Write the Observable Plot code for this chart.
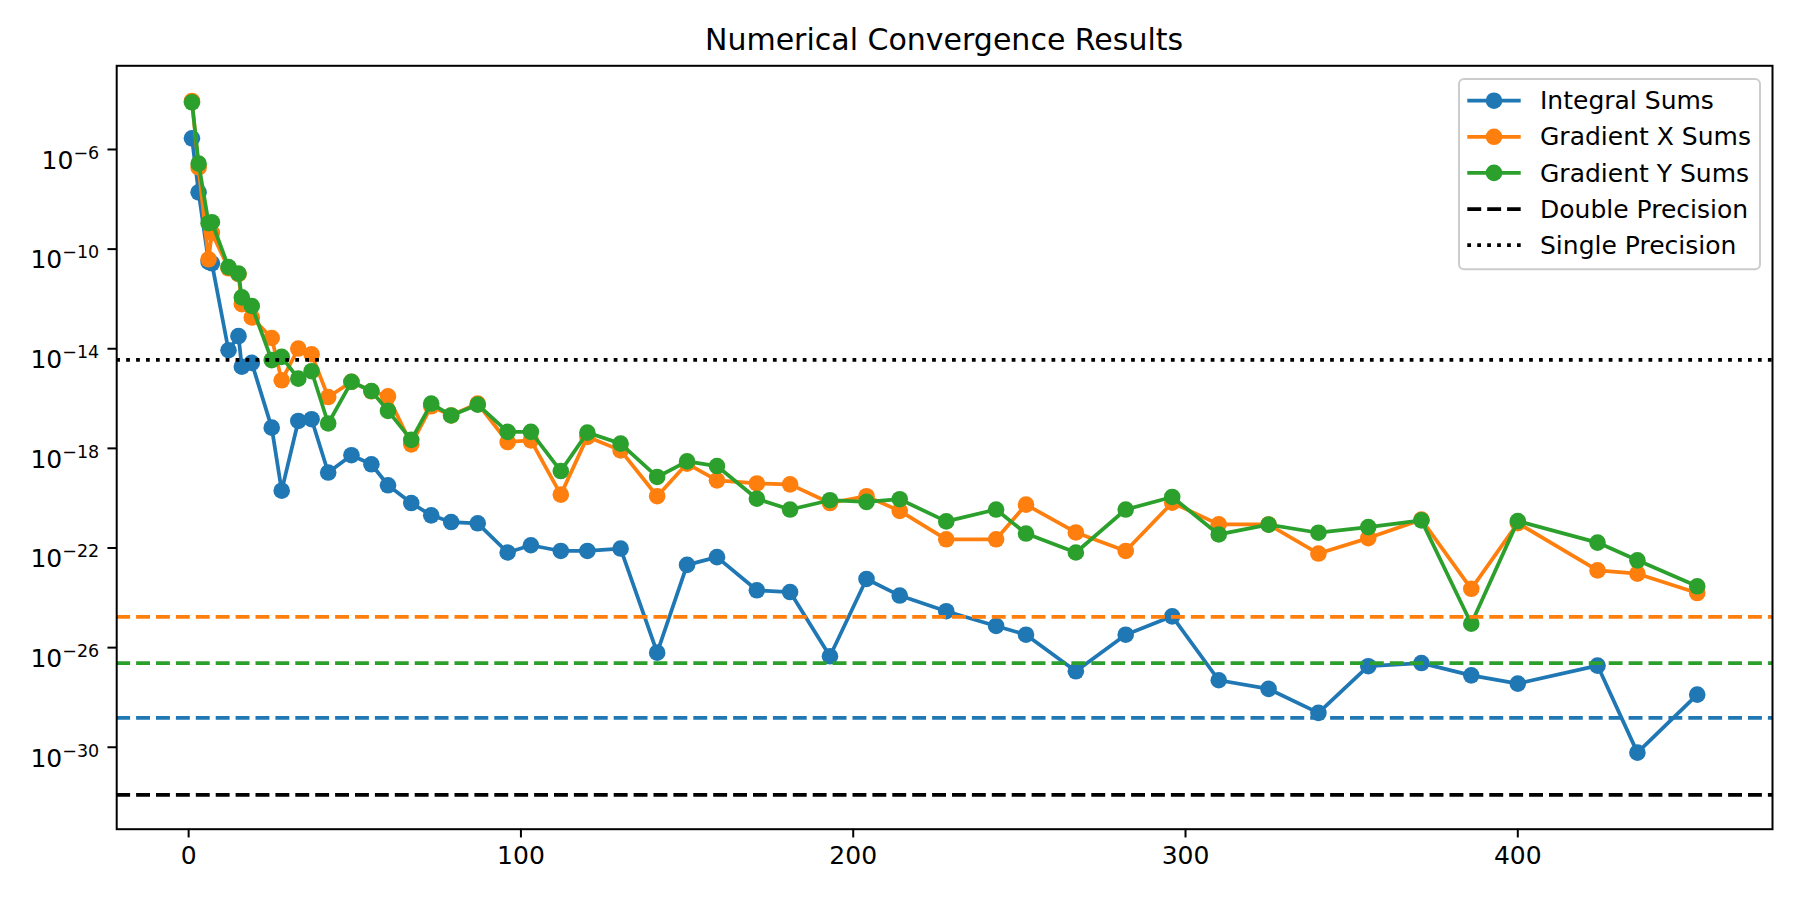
<!DOCTYPE html>
<html><head><meta charset="utf-8">
<script src="https://cdn.jsdelivr.net/npm/d3@7"></script>
<script src="https://cdn.jsdelivr.net/npm/@observablehq/plot@0.6"></script>
<style>
html,body{margin:0;padding:0;background:#fff;}
#chart{width:1799px;height:899px;}
</style></head><body><div id="chart"></div>
<script>
const chartTitle = "Numerical Convergence Results";
const iterations = [1,3,6,7,12,15,16,19,25,28,33,37,42,49,55,60,67,73,79,87,96,103,112,120,130,141,150,159,171,181,193,204,214,228,243,252,267,282,296,310,325,340,355,371,386,400,424,436,454];
const integralSums = [2.8e-6,1.9e-8,3.1e-11,2.7e-11,8.7e-15,3.2e-14,1.9e-15,2.7e-15,6.8e-18,2.0e-20,
  1.26e-17,1.48e-17,1.07e-19,5.3e-19,2.3e-19,3.3e-20,6.4e-21,2.05e-21,1.1e-21,9.8e-22,
  6.6e-23,1.29e-22,7.6e-23,7.6e-23,9.5e-23,6.3e-27,2.1e-23,4.3e-23,2.0e-24,1.7e-24,
  4.5e-27,5.7e-24,1.23e-24,2.9e-25,7.4e-26,3.3e-26,1.12e-27,3.3e-26,1.8e-25,4.9e-28,
  2.2e-28,2.4e-29,1.8e-27,2.4e-27,7.7e-28,3.6e-28,1.9e-27,6.1e-31,1.3e-28];
const gradientXSums = [8.9e-5,1.9e-7,3.9e-11,4.5e-10,1.7e-11,9.8e-12,6.2e-13,1.8e-13,2.7e-14,5.4e-16,
  1.02e-14,6.0e-15,1.15e-16,4.7e-16,1.96e-16,1.23e-16,1.45e-18,4.9e-17,2.1e-17,6.3e-17,
  1.8e-18,2.1e-18,1.39e-20,2.9e-18,8.3e-19,1.2e-20,2.45e-19,5.2e-20,3.9e-20,3.6e-20,
  6.4e-21,1.2e-20,3.1e-21,2.24e-22,2.24e-22,5.5e-21,4.2e-22,7.6e-23,6.6e-21,8.9e-22,
  8.8e-22,6.0e-23,2.5e-22,1.38e-21,2.3e-24,1.0e-21,1.26e-23,9.3e-24,1.55e-24];
const gradientYSums = [7.8e-5,2.7e-7,1.1e-9,1.2e-9,1.9e-11,1.05e-11,1.15e-12,5.2e-13,3.5e-15,4.7e-15,
  6.3e-16,1.25e-15,1.0e-17,4.7e-16,2.0e-16,3.2e-17,2.2e-18,6.3e-17,2.1e-17,5.7e-17,
  4.6e-18,4.6e-18,1.23e-19,4.3e-18,1.55e-18,7.1e-20,3.0e-19,1.95e-19,9.5e-21,3.5e-21,
  8.3e-21,7.1e-21,9.1e-21,1.17e-21,3.5e-21,3.8e-22,6.6e-23,3.5e-21,1.12e-20,3.5e-22,
  8.7e-22,4.1e-22,6.9e-22,1.29e-21,9.1e-26,1.2e-21,1.65e-22,3.2e-23,2.9e-24];
const seriesNames = ["Integral Sums","Gradient X Sums","Gradient Y Sums"];
const seriesColors = ["#1f77b4","#ff7f0e","#2ca02c"];
const doublePrecision = 1.23e-32;
const singlePrecision = 3.55e-15;
const seriesFloors = [1.5e-29, 1.7e-25, 2.4e-27];
const xTicks = [0,100,200,300,400];
const yTicks = [1e-6,1e-10,1e-14,1e-18,1e-22,1e-26,1e-30];
const xDomain = [-21.65, 476.65];
const yDomain = [Math.pow(10,-33.29), Math.pow(10,-2.64)];

const seriesValues = [integralSums, gradientXSums, gradientYSums];
const marks = [];
seriesValues.forEach((vals, s) => {
  const data = iterations.map((x, i) => ({x, y: vals[i]}));
  marks.push(Plot.line(data, {x: "x", y: "y", stroke: seriesColors[s], strokeWidth: 3.75}));
  marks.push(Plot.dot(data, {x: "x", y: "y", fill: seriesColors[s], r: 8.3, stroke: "none"}));
});
marks.push(Plot.ruleY([doublePrecision], {stroke: "black", strokeWidth: 3.75, strokeDasharray: "13.9,6"}));
marks.push(Plot.ruleY([singlePrecision], {stroke: "black", strokeWidth: 3.75, strokeDasharray: "3.75,6.2"}));
seriesFloors.forEach((v, s) => {
  marks.push(Plot.ruleY([v], {stroke: seriesColors[s], strokeWidth: 3.75, strokeDasharray: "13.9,6"}));
});
marks.push(Plot.axisX({ticks: xTicks, tickSize: 8.75, tickPadding: 8.75, strokeWidth: 2, label: null, tickFormat: d => String(d)}));
marks.push(Plot.axisY({ticks: yTicks, tickSize: 8.75, tickPadding: 8.75, strokeWidth: 2, label: null, tickFormat: d => String(Math.round(Math.log10(d)))}));
marks.push(Plot.frame({stroke: "black", strokeWidth: 2}));

const svg = Plot.plot({
  width: 1799, height: 899,
  marginTop: 65.3, marginBottom: 70.3, marginLeft: 116.2, marginRight: 27,
  x: {type: "linear", domain: xDomain},
  y: {type: "log", domain: yDomain},
  style: {fontFamily: "DejaVu Sans", fontSize: "25px", background: "white", overflow: "visible"},
  marks
});
document.getElementById("chart").appendChild(svg);

const root = d3.select(svg);
// superscript tick labels
root.selectAll('g[aria-label="y-axis tick label"] text').each(function() {
  const e = +this.textContent;
  const t = d3.select(this);
  t.text(null).attr("dy", "0.45em");
  t.append("tspan").text("10");
  t.append("tspan").attr("dy", "-10").style("font-size", "17.5px").text((e < 0 ? "\u2212" : "") + Math.abs(e));
});
// title
root.append("text").attr("x", (116.2 + 1772) / 2).attr("y", 50).attr("text-anchor", "middle")
  .style("font-size", "30px").attr("fill", "black").text(chartTitle);
// legend
const lg = root.append("g");
lg.append("rect").attr("x", 1459).attr("y", 79).attr("width", 301).attr("height", 190.3).attr("rx", 5)
  .attr("fill", "white").attr("fill-opacity", 0.8).attr("stroke", "#cccccc").attr("stroke-width", 2);
const legendItems = [
  {label: seriesNames[0], color: seriesColors[0], dash: null, marker: true},
  {label: seriesNames[1], color: seriesColors[1], dash: null, marker: true},
  {label: seriesNames[2], color: seriesColors[2], dash: null, marker: true},
  {label: "Double Precision", color: "black", dash: "13.9,6", marker: false},
  {label: "Single Precision", color: "black", dash: "3.75,6.2", marker: false}
];
legendItems.forEach((it, i) => {
  const cy = 100.7 + i * 36.1;
  lg.append("line").attr("x1", 1467.3).attr("x2", 1520.7).attr("y1", cy).attr("y2", cy)
    .attr("stroke", it.color).attr("stroke-width", 3.75).attr("stroke-dasharray", it.dash);
  if (it.marker) lg.append("circle").attr("cx", 1494).attr("cy", cy).attr("r", 8.3).attr("fill", it.color);
  lg.append("text").attr("x", 1540).attr("y", cy + 8.6).attr("text-anchor", "start").attr("fill", "black")
    .style("font-size", "25px").text(it.label);
});
</script></body></html>
